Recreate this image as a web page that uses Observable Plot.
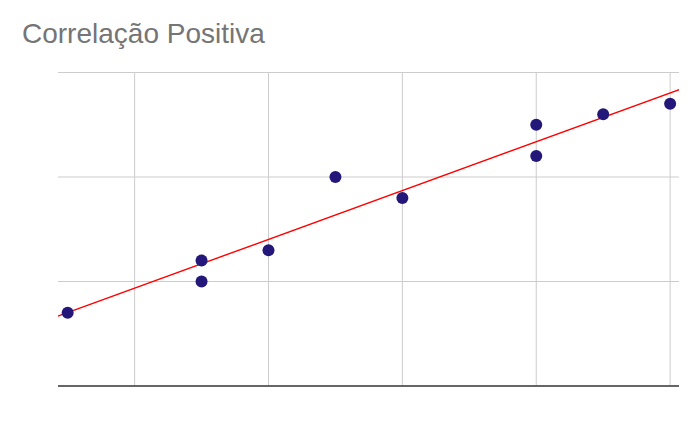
<!DOCTYPE html>
<html>
<head>
<meta charset="utf-8">
<script src="https://cdn.jsdelivr.net/npm/d3@7"></script>
<script src="https://cdn.jsdelivr.net/npm/@observablehq/plot@0.6"></script>
<style>
  body { margin: 0; background: #fff; }
  #wrap { position: relative; width: 700px; height: 433px; }
  #title { position: absolute; left: 22px; top: 20px; font-family: "Liberation Sans", Arial, sans-serif; font-size: 28px; line-height: 28px; color: #757575; white-space: nowrap; }
  svg { display: block; }
</style>
</head>
<body>
<div id="wrap"><div id="title"></div></div>
<script>
const title = "Correlação Positiva";
const xValues = [1, 3, 3, 4, 5, 6, 8, 8, 9, 10];
const yValues = [7, 10, 12, 13, 20, 18, 22, 25, 26, 27];
const xTicks = [2, 4, 6, 8, 10];
const yTicks = [10, 20, 30];

const data = xValues.map((x, i) => ({x, y: yValues[i]}));

// least-squares trend line computed from the data
const mx = d3.mean(xValues), my = d3.mean(yValues);
const sxy = d3.sum(data, d => (d.x - mx) * (d.y - my));
const sxx = d3.sum(data, d => (d.x - mx) ** 2);
const slope = sxy / sxx, intercept = my - slope * mx;
const xDomain = [0.863, 10.14];
const trend = xDomain.map(x => ({x, y: intercept + slope * x}));

document.getElementById("title").textContent = title;

const chart = Plot.plot({
  width: 700,
  height: 433,
  marginTop: 72,
  marginBottom: 47.5,
  marginLeft: 58,
  marginRight: 21,
  style: {background: "#fff"},
  x: {domain: xDomain, axis: null},
  y: {domain: [0, 30], axis: null},
  marks: [
    Plot.gridX(xTicks, {stroke: "#cccccc", strokeOpacity: 1, strokeWidth: 1}),
    Plot.gridY(yTicks, {stroke: "#cccccc", strokeOpacity: 1, strokeWidth: 1}),
    Plot.ruleY([0], {stroke: "#333333", strokeWidth: 1.5}),
    Plot.line(trend, {x: "x", y: "y", stroke: "#ff0000", strokeWidth: 1.4, clip: true}),
    Plot.dot(data, {x: "x", y: "y", r: 6, fill: "#24177a", stroke: "none"})
  ]
});
document.getElementById("wrap").appendChild(chart);
</script>
</body>
</html>
